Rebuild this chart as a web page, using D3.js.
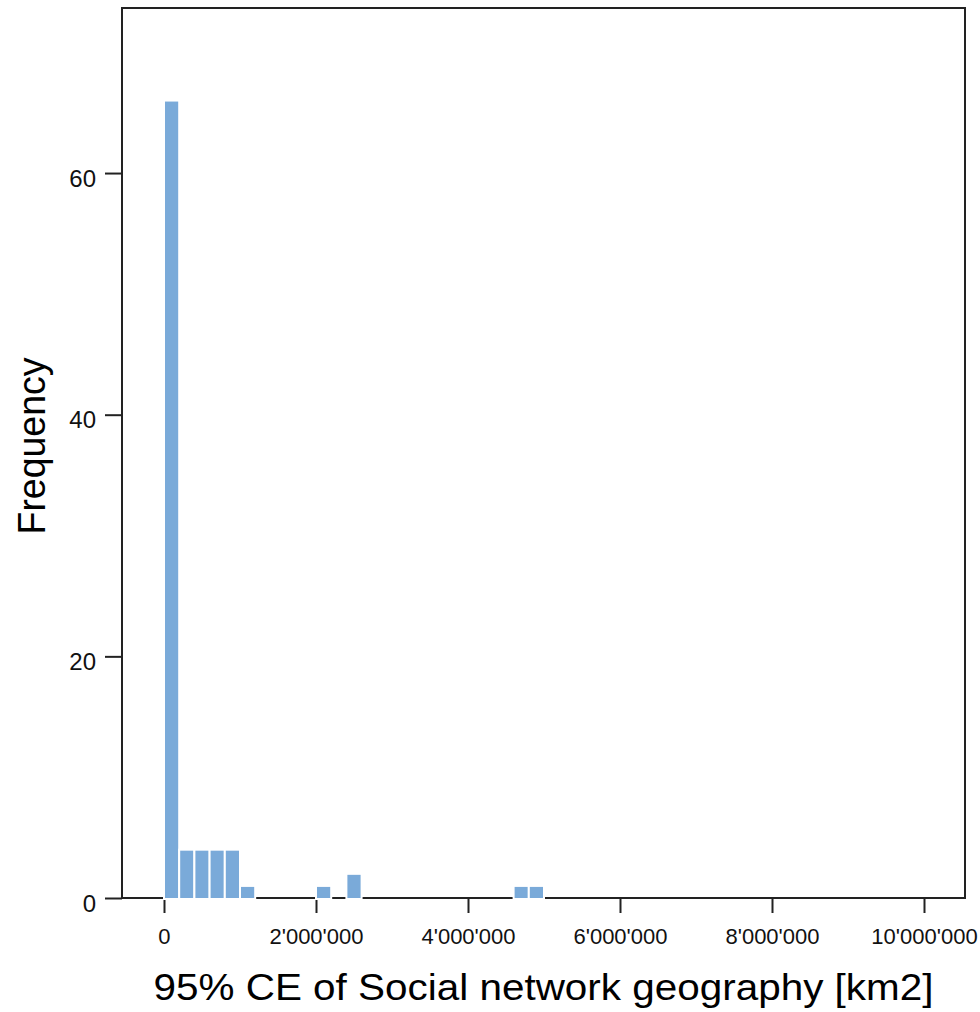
<!DOCTYPE html>
<html>
<head>
<meta charset="utf-8">
<script src="https://cdn.jsdelivr.net/npm/d3@7"></script>
<style>
  html, body { margin: 0; padding: 0; background: #fff; }
  svg { display: block; font-family: "Liberation Sans", Arial, sans-serif; }
</style>
</head>
<body>
<svg id="chart" width="980" height="1012"></svg>
<script>
// ---- data ----
const binWidth = 200000;
const binStarts = [0, 200000, 400000, 600000, 800000, 1000000, 1200000, 1400000, 1600000, 1800000,
                   2000000, 2200000, 2400000, 2600000, 2800000, 3000000, 3200000, 3400000, 3600000,
                   3800000, 4000000, 4200000, 4400000, 4600000, 4800000];
const counts    = [66, 4, 4, 4, 4, 1, 0, 0, 0, 0,
                   1, 0, 2, 0, 0, 0, 0, 0, 0,
                   0, 0, 0, 0, 1, 1];
const xTicks = [0, 2000000, 4000000, 6000000, 8000000, 10000000];
const xTickLabels = ["0", "2'000'000", "4'000'000", "6'000'000", "8'000'000", "10'000'000"];
const yTicks = [0, 20, 40, 60];
const xTitle = "95% CE of Social network geography [km2]";
const yTitle = "Frequency";

// ---- layout ----
const svg = d3.select("#chart");
const mLeft = 122, mRight = 965, mTop = 8, mBottom = 898;

const x = d3.scaleLinear().domain([-552600, 10539500]).range([mLeft, mRight]);
const y = d3.scaleLinear().domain([0, 73.66]).range([mBottom, mTop]);

const frameColor = "#222";

// x axis
const xAxis = d3.axisBottom(x).tickValues(xTicks)
  .tickFormat((d, i) => xTickLabels[i]).tickSize(15).tickPadding(15).tickSizeOuter(0);
const gx = svg.append("g").attr("transform", `translate(0,${mBottom})`).call(xAxis);
gx.select(".domain").remove();
gx.selectAll(".tick line").attr("stroke", frameColor).attr("stroke-width", 2);
gx.selectAll(".tick text").attr("font-size", 22).attr("fill", "#111");

// y axis
const yAxis = d3.axisLeft(y).tickValues(yTicks).tickSize(17).tickPadding(9).tickSizeOuter(0);
const gy = svg.append("g").attr("transform", `translate(${mLeft},0)`).call(yAxis);
gy.select(".domain").remove();
gy.selectAll(".tick line").attr("stroke", frameColor).attr("stroke-width", 2);
gy.selectAll(".tick text").attr("font-size", 24).attr("dy", "0.55em").attr("fill", "#111");

// frame
svg.append("path")
  .attr("d", `M${mLeft},${mBottom}V${mTop}H${mRight}V${mBottom}Z`)
  .attr("fill", "none").attr("stroke", frameColor).attr("stroke-width", 2);

// bars
const data = binStarts.map((s, i) => ({ x0: s, x1: s + binWidth, n: counts[i] })).filter(d => d.n > 0);
svg.append("g").selectAll("rect").data(data).join("rect")
  .attr("x", d => x(d.x0))
  .attr("width", d => x(d.x1) - x(d.x0))
  .attr("y", d => y(d.n))
  .attr("height", d => y(0) - y(d.n) + 1)
  .attr("fill", "#7aaad9")
  .attr("stroke", "#ffffff")
  .attr("stroke-width", 2);

// titles
svg.append("text")
  .attr("x", (mLeft + mRight) / 2).attr("y", 1000)
  .attr("text-anchor", "middle")
  .attr("font-size", 36)
  .attr("textLength", 780).attr("lengthAdjust", "spacingAndGlyphs")
  .attr("fill", "#000")
  .text(xTitle);

svg.append("text")
  .attr("transform", "translate(45,446) rotate(-90)")
  .attr("text-anchor", "middle")
  .attr("font-size", 38)
  .attr("textLength", 177).attr("lengthAdjust", "spacingAndGlyphs")
  .attr("fill", "#000")
  .text(yTitle);
</script>
</body>
</html>
